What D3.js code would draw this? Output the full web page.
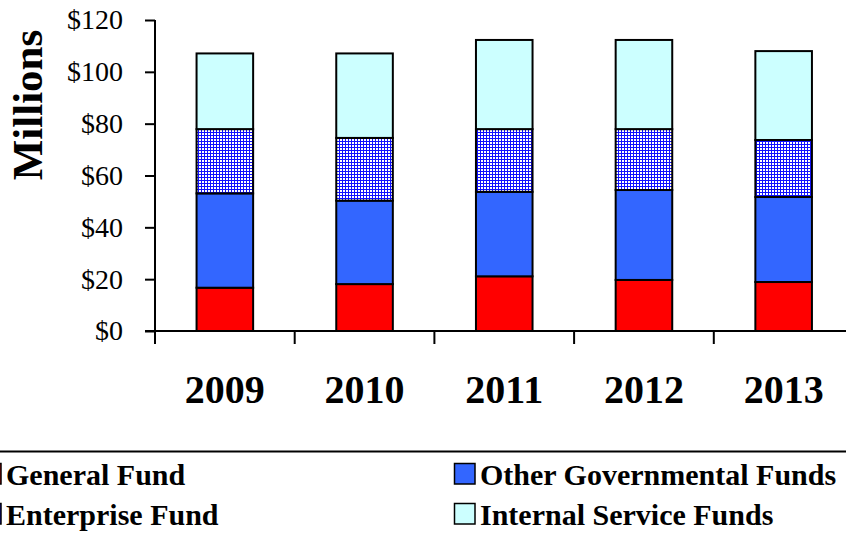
<!DOCTYPE html>
<html lang="en">

<head>
    <meta charset="UTF-8">
    <title>Funds by Year</title>
    <style>
        body {
            margin: 0;
            background: #fff;
            font-family: "Liberation Serif", "Times New Roman", serif;
        }

        .axis path,
        .axis line {
            stroke: #000;
            stroke-width: 2px;
        }

        .bar {
            stroke: #000;
            stroke-width: 2px;
        }
    </style>
</head>

<body>
    <div id="chart"></div>
    <script src="https://d3js.org/d3.v7.min.js"></script>
    <script>
        const years = ["2009", "2010", "2011", "2012", "2013"];
        const seriesNames = ["General Fund", "Other Governmental Funds", "Enterprise Fund", "Internal Service Funds"];
        const generalFund = [16.7, 18.1, 21.1, 19.7, 18.9];
        const otherGov = [36.4, 32.2, 32.6, 34.7, 32.8];
        const enterprise = [24.8, 24.2, 24.2, 23.5, 22.0];
        const internalService = [29.2, 32.6, 34.4, 34.4, 34.3];
        const yTicks = [0, 20, 40, 60, 80, 100, 120];

        const seriesValues = [generalFund, otherGov, enterprise, internalService];
        const fills = ["#ff0000", "#3366ff", "url(#grid)", "#ccffff"];

        const width = 846;
        const height = 533;

        const table = years.map((yr, i) => {
            const row = { year: yr };
            seriesNames.forEach((s, j) => { row[s] = seriesValues[j][i]; });
            return row;
        });
        const stacked = d3.stack().keys(seriesNames)(table);

        const x = d3.scaleBand()
            .domain(years)
            .range([155, 853.5])
            .padding(0);

        const y = d3.scaleLinear()
            .domain([0, 120])
            .range([331, 20]);

        const svg = d3.select("#chart")
            .append("svg")
            .attr("width", width)
            .attr("height", height);

        // blue grid hatch for Enterprise Fund
        const pat = svg.append("defs").append("pattern")
            .attr("id", "grid")
            .attr("patternUnits", "userSpaceOnUse")
            .attr("width", 3)
            .attr("height", 3);
        pat.append("rect").attr("width", 3).attr("height", 3).attr("fill", "#fff");
        pat.append("rect").attr("width", 3).attr("height", 1).attr("fill", "#1010ff");
        pat.append("rect").attr("width", 1).attr("height", 3).attr("fill", "#1010ff");

        const barW = x.bandwidth() * 0.405;

        svg.append("g")
            .selectAll("g")
            .data(stacked)
            .join("g")
            .attr("fill", (d, i) => fills[i])
            .selectAll("rect")
            .data(d => d)
            .join("rect")
            .attr("class", "bar")
            .attr("x", d => x(d.data.year) + (x.bandwidth() - barW) / 2)
            .attr("y", d => y(d[1]))
            .attr("width", barW)
            .attr("height", d => y(d[0]) - y(d[1]));

        // y axis
        const yAxis = svg.append("g")
            .attr("class", "axis")
            .attr("transform", "translate(155,0)")
            .call(d3.axisLeft(y).tickValues(yTicks).tickSize(10).tickSizeOuter(0).tickFormat(d => "$" + d));
        yAxis.select(".domain").attr("d", `M0,${y(120)}V344`);
        yAxis.selectAll("text")
            .attr("x", -32)
            .attr("dy", "0.32em")
            .style("font-family", "'Liberation Serif', serif")
            .style("font-size", "28px")
            .attr("fill", "#000");

        // x axis
        const xAxis = svg.append("g")
            .attr("class", "axis")
            .attr("transform", `translate(0,${y(0)})`)
            .call(d3.axisBottom(x).tickSize(0).tickSizeOuter(0));
        xAxis.select(".domain").attr("d", `M145,0H${width}`);
        xAxis.selectAll("text")
            .attr("y", 72)
            .attr("dy", 0)
            .style("font-family", "'Liberation Serif', serif")
            .style("font-size", "40px")
            .style("font-weight", "bold")
            .attr("fill", "#000");
        xAxis.selectAll(".edge")
            .data(years)
            .join("line")
            .attr("class", "edge")
            .attr("x1", d => x(d))
            .attr("x2", d => x(d))
            .attr("y1", 0)
            .attr("y2", 13);

        svg.append("text")
            .attr("transform", "translate(42,105) rotate(-90)")
            .attr("text-anchor", "middle")
            .style("font-size", "43px")
            .style("font-weight", "bold")
            .text("Millions");

        // legend
        svg.append("line")
            .attr("x1", 0)
            .attr("x2", width)
            .attr("y1", 451.5)
            .attr("y2", 451.5)
            .attr("stroke", "#000")
            .attr("stroke-width", 2);

        const legendOrder = [0, 1, 2, 3];
        const legend = svg.append("g")
            .selectAll("g")
            .data(legendOrder)
            .join("g")
            .attr("transform", (d, i) => `translate(${(i % 2) * 474},${Math.floor(i / 2) * 40})`);

        legend.append("rect")
            .attr("x", -19.5)
            .attr("y", 463.5)
            .attr("width", 20.5)
            .attr("height", 20.5)
            .attr("fill", d => fills[d])
            .attr("stroke", "#000")
            .attr("stroke-width", 1.5);

        legend.append("text")
            .attr("x", 6)
            .attr("y", 485)
            .style("font-size", "30px")
            .style("font-weight", "bold")
            .text(d => seriesNames[d]);
    </script>
</body>

</html>
